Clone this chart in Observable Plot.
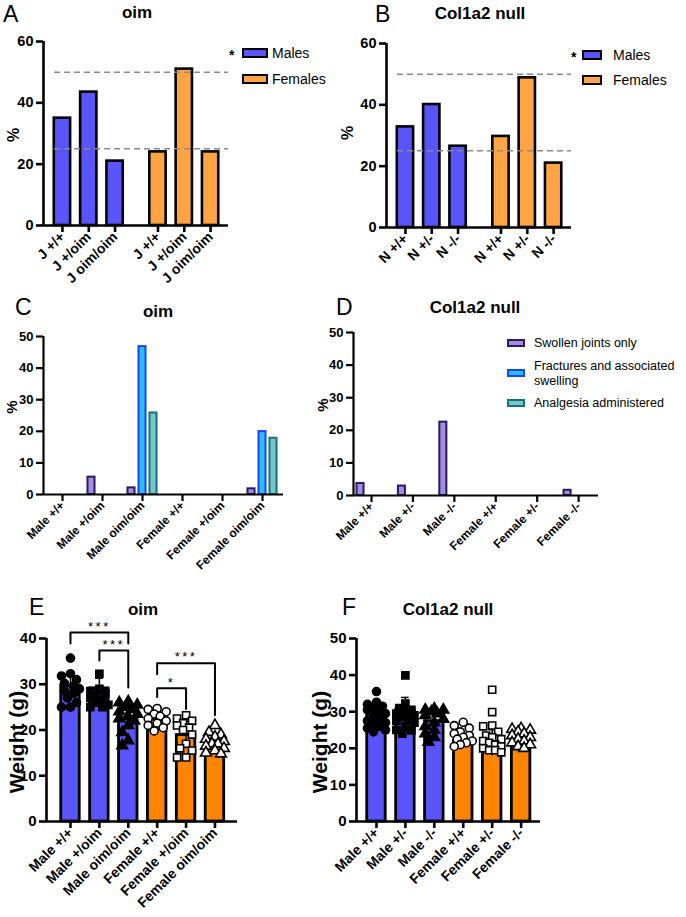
<!DOCTYPE html>
<html><head><meta charset="utf-8">
<script src="https://cdn.jsdelivr.net/npm/d3@7"></script>
<script src="https://cdn.jsdelivr.net/npm/@observablehq/plot@0.6"></script>
<style>
body{margin:0;background:#fff;}
#fig{position:relative;width:686px;height:917px;overflow:hidden;font-family:"Liberation Sans",Arial,sans-serif;color:#000;}
#fig svg{position:absolute;overflow:visible;}
.t{position:absolute;white-space:nowrap;line-height:1;}
.letter{font-family:"Liberation Sans",sans-serif;font-size:23px;font-weight:400;}
.title{font-weight:bold;font-size:17px;transform:translateX(-50%);}
.ylab{font-weight:bold;transform:translate(-50%,-50%) rotate(-90deg);}
.leg{font-size:14px;}
.leg2{font-size:12.5px;}
.box{position:absolute;box-sizing:border-box;}
</style></head>
<body><div id="fig"></div>
<script>
// ---------- data ----------
const genoA = ["J +/+", "J +/oim", "J oim/oim"];
const malesA = [35, 43.5, 21];
const femalesA = [24, 51, 24];
const genoB = ["N +/+", "N +/-", "N -/-"];
const malesB = [32.8, 40.1, 26.5];
const femalesB = [29.7, 48.8, 21];
const expectedRatios = [25, 50];
const ticksAB = [0, 20, 40, 60];

const groupsOim = ["Male +/+", "Male +/oim", "Male oim/oim", "Female +/+", "Female +/oim", "Female oim/oim"];
const groupsNull = ["Male +/+", "Male +/-", "Male -/-", "Female +/+", "Female +/-", "Female -/-"];
const seriesCD = ["Swollen joints only", "Fractures and associated swelling", "Analgesia administered"];
const swollenC = [0, 5.5, 2.1, 0, 0, 1.8];
const fracturesC = [0, 0, 46.8, 0, 0, 19.9];
const analgesiaC = [0, 0, 25.8, 0, 0, 17.8];
const swollenD = [3.7, 2.9, 22.5, 0, 0, 1.6];
const fracturesD = [0, 0, 0, 0, 0, 0];
const analgesiaD = [0, 0, 0, 0, 0, 0];
const ticksCD = [0, 10, 20, 30, 40, 50];

const meanE = [29.7, 29.1, 22.6, 22.3, 18.9, 17.3];
const sdE = [2.3, 2.2, 2.6, 1.5, 3.0, 1.8];
const pointsE = [
  [35.7, 32.3, 31.8, 31, 30.2, 29.6, 29, 28.5, 28, 27, 26, 25, 25],
  [32.3, 29, 28.5, 28, 27.5, 27, 26.5, 26, 25.5, 25, 25],
  [26.2, 26, 25.5, 25, 24.5, 24, 23.5, 23, 22.5, 22, 21, 19.5, 17.7, 16.6],
  [24.7, 24.5, 24, 23.5, 23, 22.5, 22, 21.5, 21, 20.5, 19.8],
  [23.2, 22.5, 22, 21.5, 21, 20.5, 20, 19, 17, 16, 15.5, 14, 14],
  [21, 19.5, 19, 18.5, 18, 17.5, 17, 17, 16.5, 16, 15.5, 15, 14.8]
];
const bracketsE = [
  {from: 0, to: 2, y: 41.3, legFrom: 38.9, legTo: 38.9, label: "***"},
  {from: 1, to: 2, y: 37.4, legFrom: 35.2, legTo: 29.3, label: "***"},
  {from: 3, to: 5, y: 34.6, legFrom: 32.2, legTo: 23.2, label: "***"},
  {from: 3, to: 4, y: 29.1, legFrom: 27.2, legTo: 24.6, label: "*"}
];
const ticksE = [0, 10, 20, 30, 40];

const meanF = [29.4, 30.6, 27.4, 22, 21.5, 22];
const sdF = [2.5, 3.3, 2.5, 1.8, 3.6, 1.5];
const pointsF = [
  [35.5, 32.6, 32, 31.5, 31, 30.5, 30, 29.5, 29, 28, 27.5, 27, 26.5, 26, 25.5, 25, 24.5],
  [39.9, 32.2, 31, 30.5, 30, 29.5, 29, 28.5, 28, 27.5, 27, 26, 25, 24.9, 24],
  [30.8, 30.5, 30.5, 30, 29.5, 29, 28, 27, 26, 25, 24, 23, 21.7],
  [27.1, 26.2, 25.5, 24.5, 24, 23.5, 23, 22.5, 22, 21.5, 21, 20.5],
  [36, 29.9, 26.2, 26, 24.5, 23.5, 23, 22.5, 22, 21.5, 21, 20.5, 20, 19.5, 19.5, 18.9],
  [25.4, 25.2, 25, 24.5, 24, 23.5, 23, 22.5, 22, 21.5, 21, 20.5, 20]
];
const ticksF = [0, 10, 20, 30, 40, 50];
const symbolsEF = ["circle", "square", "triangle", "circle", "square", "triangle"];

// ---------- style ----------
const BLUE = "#5a55fb", ORANGE_L = "#ffa443", ORANGE = "#ff8402";
const CD_FILL = ["#a68ce0", "#2fbcff", "#74c8c8"];
const CD_STROKE = ["#2b1a5e", "#1645ff", "#17707c"];
const fig = document.getElementById("fig");

function place(svg, left, top, xfs, yfs, ofs) {
  svg.style.left = left + "px"; svg.style.top = top + "px";
  svg.querySelectorAll("text").forEach(t => {
    const g = t.closest("g[aria-label]");
    const lab = g ? g.getAttribute("aria-label") : "";
    let fs = ofs || 13, bold = false;
    if (lab.includes("x-axis")) { fs = xfs; bold = true; }
    else if (lab.includes("y-axis")) { fs = yfs; bold = true; }
    else { t.style.setProperty("letter-spacing", "2.5px"); }
    t.style.setProperty("font-size", fs + "px", "important");
    t.style.setProperty("font-weight", bold ? "bold" : "normal", "important");
    t.style.setProperty("font-family", "'Liberation Sans', Arial, sans-serif", "important");
    t.style.setProperty("fill", "#000");
  });
  fig.appendChild(svg);
}
function txt(s, x, y, cls, extra) {
  const d = document.createElement("div");
  d.className = "t " + cls; d.textContent = s;
  d.style.left = x + "px"; d.style.top = y + "px";
  if (extra) Object.assign(d.style, extra);
  fig.appendChild(d);
}
function box(x, y, w, h, fill, stroke, bw) {
  const d = document.createElement("div");
  d.className = "box";
  Object.assign(d.style, {left: x + "px", top: y + "px", width: w + "px", height: h + "px",
    background: fill, border: bw + "px solid " + stroke});
  fig.appendChild(d);
}
const baseStyle = {background: "transparent", color: "black", overflow: "visible"};

function axes({xmin, xmax, ymax, yticks, xticks, xlabels, sw}) {
  const lab = new Map(xticks.map((p, i) => [p, xlabels[i]]));
  return [
    Plot.ruleY([0], {x1: xmin, x2: xmax, stroke: "black", strokeWidth: sw}),
    Plot.ruleX([xmin], {y1: 0, y2: ymax, stroke: "black", strokeWidth: sw}),
    Plot.axisY({ticks: yticks, tickSize: 7, tickPadding: 3, strokeWidth: sw, label: null}),
    Plot.axisX({ticks: xticks, tickFormat: p => lab.get(p), tickSize: 7, tickPadding: 2, strokeWidth: sw,
      tickRotate: -45, label: null})
  ];
}

// ---------- panels A & B ----------
function panelAB(geno, males, females, mt, mb) {
  const rows = [];
  geno.forEach((g, i) => rows.push({pos: i, label: g, v: males[i], sex: "Males"}));
  geno.forEach((g, i) => rows.push({pos: i + 3.63, label: g, v: females[i], sex: "Females"}));
  const half = 0.31, xmin = -0.72, xmax = 6.31;
  return Plot.plot({
    width: 343, height: 290, marginLeft: 43, marginRight: 115, marginTop: mt, marginBottom: mb,
    style: baseStyle,
    x: {domain: [xmin, xmax], axis: null}, y: {domain: [0, 60], axis: null},
    marks: [
      Plot.rectY(rows, {x1: d => d.pos - half, x2: d => d.pos + half, y1: 0, y2: "v",
        fill: d => d.sex === "Males" ? BLUE : ORANGE_L, stroke: "black", strokeWidth: 2.6}),
      Plot.ruleY(expectedRatios, {x1: -0.3, x2: xmax, stroke: "#8a8a8a", strokeWidth: 1.5, strokeDasharray: "6,4"}),
      ...axes({xmin, xmax, ymax: 60, yticks: ticksAB, xticks: rows.map(d => d.pos), xlabels: rows.map(d => d.label), sw: 2.6})
    ]
  });
}
place(panelAB(genoA, malesA, femalesA, 41, 65), 0, 0, 14, 14.5);
place(panelAB(genoB, malesB, femalesB, 43, 63), 343, 0, 14, 14.5);

// ---------- panels C & D ----------
function panelCD(groups, sw, fr, an, cfg) {
  const vals = [sw, fr, an];
  const rows = [];
  groups.forEach((g, i) => vals.forEach((arr, s) => {
    if (arr[i] > 0) rows.push({pos: i + (s - 1) * cfg.off, v: arr[i], s});
  }));
  return Plot.plot({
    width: cfg.w, height: 300, marginLeft: cfg.ml, marginRight: cfg.mr, marginTop: cfg.mt, marginBottom: 300 - cfg.mt - (cfg.y0 - cfg.y50),
    style: baseStyle,
    x: {domain: [cfg.xmin, cfg.xmax], axis: null}, y: {domain: [0, 50], axis: null},
    marks: [
      Plot.rectY(rows, {x1: d => d.pos - cfg.half, x2: d => d.pos + cfg.half, y1: 0, y2: "v",
        fill: d => CD_FILL[d.s], stroke: d => CD_STROKE[d.s], strokeWidth: 2}),
      ...axes({xmin: cfg.xmin, xmax: cfg.xmax, ymax: 50, yticks: ticksCD, xticks: groups.map((g, i) => i), xlabels: groups, sw: 2.2})
    ]
  });
}
place(panelCD(groupsOim, swollenC, fracturesC, analgesiaC,
  {w: 343, ml: 43, mr: 60, mt: 46, y50: 336, y0: 494, xmin: -0.475, xmax: 5.525, off: 0.275, half: 0.088}), 0, 290, 12, 13);
place(panelCD(groupsNull, swollenD, fracturesD, analgesiaD,
  {w: 386, ml: 53, mr: 88, mt: 42, y50: 332, y0: 495, xmin: -0.435, xmax: 5.48, off: 0.266, half: 0.085}), 300, 290, 12, 13);

// ---------- panels E & F ----------
function spread(values, center, kx, ky, r) {
  const order = values.map((v, i) => i).sort((a, b) => values[b] - values[a]);
  const placed = [], out = new Array(values.length);
  const cands = [0, -6, 6, -3, 3, -9, 9];
  for (const i of order) {
    const py = values[i] * ky;
    let best = 0, bestD = -1;
    for (const c of cands) {
      let dmin = Infinity;
      for (const p of placed) { const d = Math.hypot(p.x - c, p.y - py); if (d < dmin) dmin = d; }
      if (dmin >= 2 * r) { best = c; break; }
      if (dmin > bestD) { bestD = dmin; best = c; }
    }
    placed.push({x: best, y: py}); out[i] = center + best / kx;
  }
  return out;
}
function panelEF(groups, means, sds, points, cfg) {
  const bars = groups.map((g, i) => ({pos: i, g, m: means[i], sd: sds[i], male: i < 3}));
  const pts = [];
  points.forEach((arr, i) => {
    const xs = spread(arr, i, cfg.kx, cfg.ky, 3.6);
    arr.forEach((v, j) => pts.push({x: xs[j], v, sym: symbolsEF[i], open: i >= 3}));
  });
  const marks = [
    Plot.rectY(bars, {x1: d => d.pos - 0.32, x2: d => d.pos + 0.32, y1: 0, y2: "m",
      fill: d => d.male ? BLUE : ORANGE, stroke: "black", strokeWidth: 2.8}),
    Plot.ruleX(bars, {x: "pos", y1: d => d.m - d.sd, y2: d => d.m + d.sd, stroke: "black", strokeWidth: 1.5}),
    Plot.ruleY(bars, {y: d => d.m + d.sd, x1: d => d.pos - 0.13, x2: d => d.pos + 0.13, stroke: "black", strokeWidth: 1.5}),
    Plot.dot(pts, {x: "x", y: "v", symbol: "sym", r: 4, fill: d => d.open ? "white" : "black", stroke: "black", strokeWidth: 1.6}),
    ...axes({xmin: cfg.xmin, xmax: cfg.xmax, ymax: cfg.ymax, yticks: cfg.yticks, xticks: groups.map((g, i) => i), xlabels: groups, sw: 2.6})
  ];
  if (cfg.brackets) {
    const segs = [];
    cfg.brackets.forEach((b, k) => {
      segs.push({k, x: b.from, y: b.legFrom}, {k, x: b.from, y: b.y}, {k, x: b.to, y: b.y}, {k, x: b.to, y: b.legTo});
    });
    marks.push(Plot.line(segs, {x: "x", y: "y", z: "k", stroke: "black", strokeWidth: 2, curve: "linear"}));
    marks.push(Plot.text(cfg.brackets, {x: d => (d.from + d.to) / 2, y: "y", text: "label", dy: -6, fill: "black"}));
  }
  return Plot.plot({
    width: cfg.w, height: 327, marginLeft: cfg.ml, marginRight: cfg.mr, marginTop: 48, marginBottom: 96,
    style: baseStyle,
    x: {domain: [cfg.xmin, cfg.xmax], axis: null}, y: {domain: [0, cfg.ymax], axis: null},
    symbol: {type: "identity"},
    marks
  });
}
place(panelEF(groupsOim, meanE, sdE, pointsE,
  {w: 343, ml: 46, mr: 106, xmin: -0.83, xmax: 5.78, ymax: 40, yticks: ticksE, kx: 28.9, ky: 183 / 40, brackets: bracketsE}), 0, 590, 14, 15, 13);
place(panelEF(groupsNull, meanF, sdF, pointsF,
  {w: 386, ml: 56, mr: 146, xmin: -0.69, xmax: 5.67, ymax: 50, yticks: ticksF, kx: 28.9, ky: 183 / 50}), 300, 590, 14, 15, 13);

// ---------- text, legends ----------
txt("A", 3, 3, "letter"); txt("B", 375, 3, "letter");
txt("C", 15, 296, "letter"); txt("D", 336, 296, "letter");
txt("E", 29, 596, "letter"); txt("F", 342, 596, "letter");
txt("oim", 137, 4, "title"); txt("Col1a2 null", 480, 5, "title");
txt("oim", 158, 303, "title"); txt("Col1a2 null", 475, 299, "title");
txt("oim", 143, 601, "title"); txt("Col1a2 null", 448, 601, "title");
txt("%", 14, 135, "ylab", {fontSize: "16px"}); txt("%", 348, 133, "ylab", {fontSize: "16px"});
txt("%", 11, 407, "ylab", {fontSize: "15px"}); txt("%", 322, 405, "ylab", {fontSize: "15px"});
txt("Weight (g)", 16, 742, "ylab", {fontSize: "21px"}); txt("Weight (g)", 319, 742, "ylab", {fontSize: "21px"});

// legend A
txt("*", 229, 48, "leg", {fontWeight: "bold"});
box(242, 48, 26, 10, BLUE, "black", 2.5); txt("Males", 272, 46, "leg");
box(242, 74, 26, 10, ORANGE_L, "black", 2.5); txt("Females", 272, 72, "leg");
// legend B
txt("*", 571, 50, "leg", {fontWeight: "bold"});
box(582, 50, 20, 10, BLUE, "black", 2.5); txt("Males", 613, 48, "leg");
box(582, 75, 20, 10, ORANGE_L, "black", 2.5); txt("Females", 613, 73, "leg");
// legend D
box(507, 339, 18, 8, CD_FILL[0], CD_STROKE[0], 2); txt("Swollen joints only", 534, 337, "leg2");
box(507, 369, 18, 8, CD_FILL[1], CD_STROKE[1], 2); txt("Fractures and associated", 534, 360, "leg2"); txt("swelling", 534, 375, "leg2");
box(507, 399, 18, 8, CD_FILL[2], CD_STROKE[2], 2); txt("Analgesia administered", 534, 397, "leg2");
</script></body></html>
